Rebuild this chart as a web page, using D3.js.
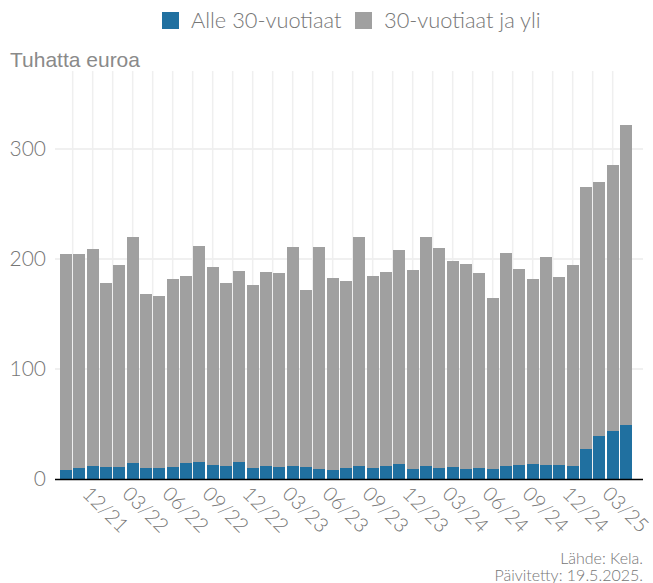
<!DOCTYPE html>
<html><head><meta charset="utf-8">
<script src="https://cdn.jsdelivr.net/npm/d3@7"></script>
<style>
html,body{margin:0;padding:0;background:#fff;}
svg{display:block;}
</style></head>
<body>
<svg id="chart" width="653" height="583"></svg>
<script>
// ---- data ----
const months = ["10/21","11/21","12/21","01/22","02/22","03/22","04/22","05/22","06/22","07/22","08/22","09/22","10/22","11/22","12/22",
"01/23","02/23","03/23","04/23","05/23","06/23","07/23","08/23","09/23","10/23","11/23","12/23",
"01/24","02/24","03/24","04/24","05/24","06/24","07/24","08/24","09/24","10/24","11/24","12/24",
"01/25","02/25","03/25","04/25"];
const under30 = [8.2,10,11.8,10.9,10.9,14.5,10,10,10.9,14.5,15.5,12.7,11.8,15.5,10,
11.8,10.9,11.8,10.9,9.1,8.2,10,11.8,10,11.8,13.6,9.1,
11.8,10,10.9,9.1,10,9.1,11.8,12.7,13.6,12.7,12.7,11.8,
27.3,39,43.6,49];
const over30 = [196,194.5,197,167,183.5,205.5,158,156.5,171,170,196.5,180,166,173.5,166.5,
176,176,199,161,202,174.5,170,208,174.5,176,194.5,181,
208,200,187,186.5,177,155.5,194,178.5,168,189,171,182.5,
238,231,242,273];
const tickLabels = ["12/21","03/22","06/22","09/22","12/22","03/23","06/23","09/23","12/23","03/24","06/24","09/24","12/24","03/25"];
const yTicks = [0,100,200,300];
const seriesNames = ["Alle 30-vuotiaat","30-vuotiaat ja yli"];
const colors = ["#2070a0","#a0a0a0"];

(function(){
const svg = d3.select("#chart");
const textColor = "#767676";
const pL = 55, pR = 643, pT = 71, pB = 479;

const x = d3.scaleBand().domain(months).range([59.33, 632.67]).paddingInner(0.1).paddingOuter(0.05);
const y = d3.scaleLinear().domain([0, 370.9]).range([pB, pT]);
const step = x.step();
const cx = i => x(months[0]) + x.bandwidth()/2 + i*step;

// horizontal grid
svg.append("g").selectAll("line").data(yTicks.filter(d=>d>0)).join("line")
  .attr("x1", pL).attr("x2", pR)
  .attr("y1", d=>y(d)).attr("y2", d=>y(d))
  .attr("stroke","#f0f0f0").attr("stroke-width",2);

// vertical grid (major at ticks, minor halfway)
const firstTick = months.indexOf(tickLabels[0]);
const gridIdx = [];
for (let v = firstTick - 1.5; v <= months.length - 1 + 0.01; v += 1.5) if (cx(v) > pL) gridIdx.push(v);
svg.append("g").selectAll("line").data(gridIdx).join("line")
  .attr("x1", d=>cx(d)).attr("x2", d=>cx(d))
  .attr("y1", pT).attr("y2", pB)
  .attr("stroke","#efefef").attr("stroke-width",1.5);

// stacked bars
const rows = months.map((m,i)=>({m, a:under30[i], b:over30[i]}));
const stack = d3.stack().keys(["a","b"])(rows);
svg.append("g").attr("shape-rendering","crispEdges")
  .selectAll("g").data(stack).join("g").attr("fill",(d,i)=>colors[i])
  .selectAll("rect").data(d=>d).join("rect")
  .attr("x", d=>x(d.data.m)).attr("width", x.bandwidth())
  .attr("y", d=>y(d[1])).attr("height", d=>y(d[0])-y(d[1]));

// x axis line
svg.append("line").attr("x1",pL).attr("x2",pR).attr("y1",pB+0.5).attr("y2",pB+0.5)
  .attr("stroke","#000").attr("stroke-width",1.5);

// y tick labels
svg.append("g").selectAll("text").data(yTicks).join("text")
  .attr("x", 46).attr("y", d=>y(d)).attr("dy","0.35em")
  .attr("text-anchor","end")
  .attr("font-family","Lato").attr("font-weight",300).attr("font-size",21)
  .attr("fill",textColor).text(d=>d);

// x tick labels
svg.append("g").selectAll("text").data(tickLabels).join("text")
  .attr("transform", d=>`translate(${cx(months.indexOf(d)) - 6.5},${pB+11}) rotate(45)`)
  .attr("dy","0.35em").attr("text-anchor","start")
  .attr("font-family","Lato").attr("font-weight",300).attr("font-size",20)
  .attr("fill",textColor).text(d=>d);

// y title
svg.append("text").attr("x",10).attr("y",67)
  .attr("font-family","Liberation Sans, Arial").attr("font-size",21)
  .attr("fill","#8a8a8a").text("Tuhatta euroa");

// legend
const legX = [162, 355];
const leg = svg.append("g");
seriesNames.forEach((n,i)=>{
  leg.append("rect").attr("x",legX[i]).attr("y",12).attr("width",17).attr("height",17).attr("fill",colors[i]);
  leg.append("text").attr("x",legX[i]+29).attr("y",20.5).attr("dy","0.35em")
    .attr("font-family","Lato").attr("font-weight",300).attr("font-size",21.8)
    .attr("fill",textColor).text(n);
});

// footer
svg.append("text").attr("x",643).attr("y",563.5).attr("text-anchor","end")
  .attr("font-family","Lato").attr("font-weight",300).attr("font-size",16)
  .attr("fill",textColor).text("Lähde: Kela.");
svg.append("text").attr("x",643).attr("y",581).attr("text-anchor","end")
  .attr("font-family","Lato").attr("font-weight",300).attr("font-size",16)
  .attr("fill",textColor).text("Päivitetty: 19.5.2025.");
})();
</script>
</body></html>
